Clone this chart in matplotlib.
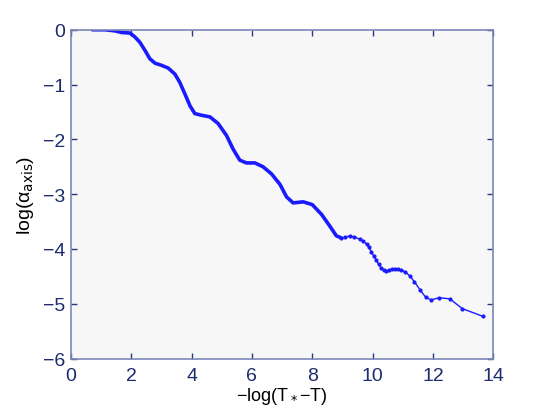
import matplotlib
matplotlib.use("Agg")
import matplotlib.pyplot as plt

# dense (smooth) part of the curve
x_dense = [0.71, 1.13, 1.46, 1.68, 1.96, 2.12, 2.29, 2.46, 2.62, 2.79, 3.01, 3.23, 3.45,
           3.61, 3.78, 3.95, 4.11, 4.33, 4.61, 4.88, 5.16, 5.38, 5.60, 5.82, 6.10, 6.37,
           6.65, 6.93, 7.15, 7.37, 7.70, 8.00, 8.31, 8.58, 8.80, 8.97]
y_dense = [0.00, 0.00, -0.02, -0.05, -0.06, -0.13, -0.23, -0.38, -0.53, -0.61, -0.65, -0.70, -0.81,
           -0.96, -1.17, -1.39, -1.53, -1.56, -1.59, -1.71, -1.93, -2.18, -2.38, -2.43, -2.43, -2.50,
           -2.63, -2.82, -3.05, -3.16, -3.14, -3.19, -3.37, -3.58, -3.76, -3.80]
# sparse part with visible sample markers
x_sparse = [8.97, 9.10, 9.24, 9.40, 9.57, 9.70, 9.80, 9.88, 9.96, 10.04, 10.12, 10.20, 10.28,
            10.37, 10.46, 10.55, 10.65, 10.75, 10.85, 10.95, 11.09, 11.23, 11.39, 11.58, 11.76,
            11.95, 12.20, 12.56, 12.98, 13.66]
y_sparse = [-3.80, -3.79, -3.76, -3.78, -3.82, -3.86, -3.91, -3.97, -4.05, -4.13, -4.20, -4.28, -4.34,
            -4.38, -4.40, -4.39, -4.37, -4.37, -4.37, -4.38, -4.42, -4.49, -4.60, -4.75, -4.88,
            -4.93, -4.89, -4.91, -5.09, -5.23]

xticks = [0, 2, 4, 6, 8, 10, 12, 14]
yticks = [0, -1, -2, -3, -4, -5, -6]

plt.rcParams['font.family'] = ['Liberation Sans', 'DejaVu Sans']
plt.rcParams['axes.unicode_minus'] = True

fig = plt.figure(figsize=(5.45, 4.10), dpi=100)
ax = fig.add_axes([0.13, 0.123, 0.775, 0.802])
ax.set_facecolor('#f7f7f7')

blue = '#1a1aff'
ax.plot(x_dense, y_dense, color=blue, lw=2.6, solid_capstyle='round', solid_joinstyle='round')
ax.plot(x_sparse, y_sparse, color=blue, lw=1.0, marker='.', markersize=4)

ax.set_xlim(0, 14)
ax.set_ylim(-6, 0)
ax.set_xticks(xticks)
ax.set_yticks(yticks)
ax.set_xticklabels([str(v).replace('-', '\u2212') for v in xticks])
ax.set_yticklabels([str(v).replace('-', '\u2212') for v in yticks])

spine_c = '#7b87b9'
for s in ax.spines.values():
    s.set_color(spine_c)
    s.set_linewidth(1.2)
ax.tick_params(direction='in', length=4, width=1, color='#2a3a80',
               labelcolor='#1c2b6e', labelsize=14, top=True, right=True)
ax.tick_params(axis='x', pad=6)
ax.tick_params(axis='y', pad=4)

ax.set_xlabel('\u2212log(T$_*$\u2212T)', fontsize=13, labelpad=1)
ax.set_ylabel('log(\u03b1$_{\\mathrm{axis}}$)', fontsize=14, labelpad=5)

fig.savefig('out.png', dpi=100)
